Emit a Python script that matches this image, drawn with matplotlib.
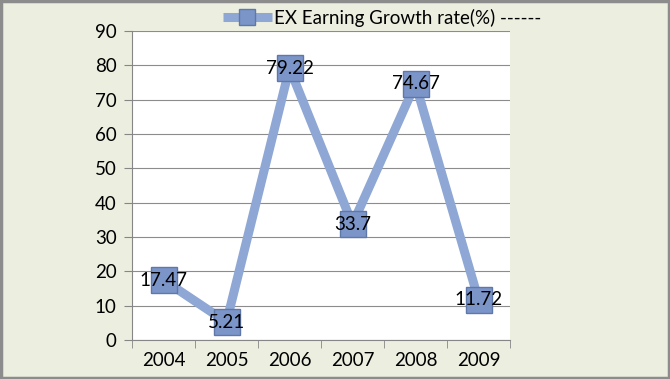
import matplotlib
matplotlib.use("Agg")
import matplotlib.pyplot as plt
from matplotlib.patches import Rectangle

years = ["2004", "2005", "2006", "2007", "2008", "2009"]
growth = [17.47, 5.21, 79.22, 33.7, 74.67, 11.72]
labels = ["17.47", "5.21", "79.22", "33.7", "74.67", "11.72"]
yticks = [0, 10, 20, 30, 40, 50, 60, 70, 80, 90]

plt.rcParams['font.family'] = ['Lato', 'DejaVu Sans']

fig = plt.figure(figsize=(6.7, 3.79), dpi=100)
fig.patch.set_facecolor('#ECEEDF')
ax = fig.add_axes([132/670, 39/379, 378/670, 309/379])
ax.set_facecolor('white')

x = list(range(len(years)))
ax.plot(x, growth, color='#8EA7D4', lw=6.5, solid_capstyle='butt',
        marker='s', markersize=19, markerfacecolor='#7C95C8',
        markeredgecolor='#5E78AA', markeredgewidth=1.0, zorder=3,
        label='EX Earning Growth rate(%) ------')
for xi, v, t in zip(x, growth, labels):
    ax.text(xi, v, t, ha='center', va='center', fontsize=13.5, color='black', zorder=4)

ax.set_xlim(-0.5, len(years) - 0.5)
ax.set_ylim(0, 90)
ax.set_yticks(yticks)
ax.set_yticklabels([str(t) for t in yticks], fontsize=13.5)
ax.set_xticks(x)
ax.set_xticklabels(years, fontsize=13.5)
ax.set_xticks([i - 0.5 for i in range(len(years) + 1)], minor=True)
ax.tick_params(axis='x', which='major', length=0, pad=9)
ax.tick_params(axis='x', which='minor', length=6, color='#868686', direction='out')
ax.tick_params(axis='y', length=6, color='#868686', direction='out', pad=5)
ax.yaxis.grid(True, color='#8C8C8C', lw=0.8)
ax.set_axisbelow(True)
for s in ['top', 'right']:
    ax.spines[s].set_visible(False)
for s in ['left', 'bottom']:
    ax.spines[s].set_color('#868686')
    ax.spines[s].set_linewidth(0.8)

leg = fig.legend(loc='center', bbox_to_anchor=(382/670, 1 - 18/379), frameon=False,
                 fontsize=13.5, handlelength=2.6, handletextpad=0.1)
for h in leg.legend_handles:
    h.set_markersize(11)

fig.add_artist(Rectangle((0.002, 0.003), 0.996, 0.994, transform=fig.transFigure,
                         fill=False, edgecolor='#8C8C8C', lw=2.5))
fig.savefig('out.png', dpi=100, facecolor=fig.get_facecolor())
